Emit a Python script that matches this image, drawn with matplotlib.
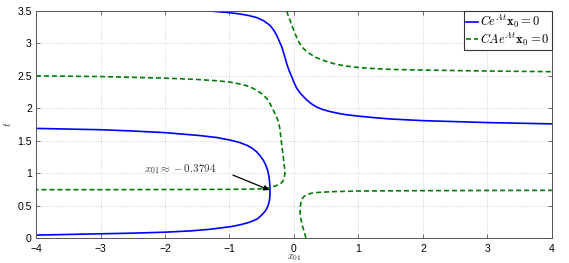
#
# Zero sets of C e^{At} x0 and CA e^{At} x0 over initial state x01 and time t.
#

import numpy as np
import matplotlib
matplotlib.use('Agg')
from matplotlib import pyplot as plt

# Curves (x01, t)
# C e^{At} x0 = 0 : left loop
blue1_x = [-4.0, -3.0, -2.5, -2.0, -1.6, -1.3, -1.1, -0.95, -0.81, -0.70, -0.63, -0.56,
           -0.50, -0.45, -0.42, -0.395, -0.38, -0.373, -0.372, -0.375, -0.38, -0.393,
           -0.41, -0.44, -0.476, -0.525, -0.58, -0.65, -0.73, -0.85, -0.99, -1.2,
           -1.46, -2.0, -2.5, -3.0, -3.5, -4.0]
blue1_y = [0.045, 0.065, 0.075, 0.09, 0.11, 0.135, 0.16, 0.18, 0.21, 0.24, 0.267, 0.30,
           0.355, 0.41, 0.457, 0.52, 0.586, 0.66, 0.74, 0.82, 0.89, 0.97,
           1.05, 1.13, 1.20, 1.27, 1.33, 1.385, 1.43, 1.475, 1.51, 1.55,
           1.58, 1.625, 1.65, 1.67, 1.68, 1.69]
# C e^{At} x0 = 0 : upper branch
blue2_x = [-1.30, -1.0, -0.837, -0.70, -0.58, -0.47, -0.372, -0.31, -0.27, -0.23, -0.19,
           -0.15, -0.113, -0.075, -0.036, 0.0, 0.042, 0.10, 0.197, 0.27, 0.35, 0.45,
           0.56, 0.70, 0.82, 1.0, 1.2, 1.5, 2.0, 2.5, 3.0, 3.5, 4.0]
blue2_y = [3.5, 3.475, 3.455, 3.43, 3.40, 3.35, 3.28, 3.20, 3.13, 3.04, 2.95,
           2.82, 2.69, 2.58, 2.49, 2.40, 2.31, 2.23, 2.13, 2.07, 2.02, 1.98,
           1.95, 1.92, 1.90, 1.88, 1.86, 1.835, 1.81, 1.795, 1.78, 1.77, 1.76]

# CA e^{At} x0 = 0 : three branches
green1_x = [-4.0, -3.0, -2.0, -1.5, -1.2, -0.99, -0.79, -0.68, -0.58, -0.50, -0.42,
            -0.37, -0.32, -0.28, -0.243, -0.217, -0.20, -0.18, -0.16, -0.145, -0.14,
            -0.15, -0.175, -0.22, -0.295, -0.36, -0.42, -0.6, -0.99, -2.0, -3.0, -4.0]
green1_y = [2.50, 2.49, 2.465, 2.445, 2.425, 2.405, 2.365, 2.33, 2.28, 2.225, 2.15,
            2.07, 1.97, 1.89, 1.80, 1.68, 1.52, 1.36, 1.20, 1.07, 1.0,
            0.93, 0.87, 0.83, 0.80, 0.78, 0.765, 0.755, 0.75, 0.748, 0.745, 0.745]
green2_x = [-0.113, -0.09, -0.062, -0.025, 0.016, 0.06, 0.12, 0.18, 0.248, 0.35, 0.51,
            0.65, 0.82, 1.0, 1.2, 1.5, 2.0, 3.0, 4.0]
green2_y = [3.5, 3.43, 3.36, 3.26, 3.155, 3.05, 2.95, 2.89, 2.84, 2.78, 2.72,
            2.68, 2.65, 2.63, 2.615, 2.60, 2.59, 2.575, 2.565]
green3_x = [0.186, 0.16, 0.135, 0.11, 0.095, 0.097, 0.11, 0.13, 0.16, 0.197, 0.25,
            0.30, 0.403, 0.6, 1.0, 2.0, 3.0, 4.0]
green3_y = [0.0, 0.09, 0.175, 0.28, 0.38, 0.48, 0.55, 0.61, 0.645, 0.665, 0.685,
            0.697, 0.705, 0.715, 0.725, 0.73, 0.733, 0.735]

x01_root = -0.3794
t_root = 0.74

xticks = [-4, -3, -2, -1, 0, 1, 2, 3, 4]
yticks = [0, 0.5, 1, 1.5, 2, 2.5, 3, 3.5]
ytick_labels = ['0', '0.5', '1', '1.5', '2', '2.5', '3', '3.5']

matplotlib.rc('font', family='Liberation Sans', size=7)
matplotlib.rc('mathtext', fontset='cm')

blue = (0, 0, 1)
green = (0, 0.5, 0)

fig = plt.figure(figsize=(5.69, 2.63), dpi=100)
ax = fig.add_axes([0.0633, 0.095, 0.9067, 0.863])

l1, = ax.plot(blue1_x, blue1_y, '-', color=blue, lw=1.2)
ax.plot(blue2_x, blue2_y, '-', color=blue, lw=1.2)
l2, = ax.plot(green1_x, green1_y, '--', color=green, lw=1.2, dashes=(3, 1.8))
ax.plot(green2_x, green2_y, '--', color=green, lw=1.2, dashes=(3, 1.8))
ax.plot(green3_x, green3_y, '--', color=green, lw=1.2, dashes=(3, 1.8))

ax.set_xlim(-4, 4)
ax.set_ylim(0, 3.5)
ax.set_xticks(xticks)
ax.set_yticks(yticks)
ax.set_yticklabels(ytick_labels)
ax.grid(True, linestyle=':', color='#c8c8c8', lw=0.6)
ax.tick_params(direction='in', top=True, right=True, length=3, width=0.6,
               color='#555555', labelsize=7.5)
ax.tick_params(axis='x', pad=4)
ax.tick_params(axis='y', pad=3)
for s in ax.spines.values():
    s.set_color('#555555')
    s.set_linewidth(0.7)

ax.set_xlabel(r'$x_{01}$', fontsize=7.5, labelpad=-1, color='#333333')
ax.set_ylabel(r'$t$', fontsize=7.5, color='#333333')
ax.yaxis.set_label_coords(-0.045, 0.5)

ax.annotate('', xy=(x01_root, t_root), xytext=(-0.946, 0.97),
            arrowprops=dict(arrowstyle='-|>', color='black', lw=0.9,
                            mutation_scale=8, shrinkA=0, shrinkB=0))
ax.text(-1.76, 1.06, r'$x_{01} \approx -0.3794$', fontsize=8, color='#333333',
        ha='center', va='center')

leg = ax.legend([l1, l2], [r'$Ce^{At}\mathbf{x}_0 = 0$', r'$CAe^{At}\mathbf{x}_0 = 0$'],
                loc='upper right', borderaxespad=0, fancybox=False, fontsize=9,
                handlelength=1.0, handletextpad=0.15, borderpad=0.15, labelspacing=0.05,
                framealpha=1)
leg.get_frame().set_edgecolor('#333333')
leg.get_frame().set_linewidth(0.8)

plt.savefig('out.png', dpi=100)
